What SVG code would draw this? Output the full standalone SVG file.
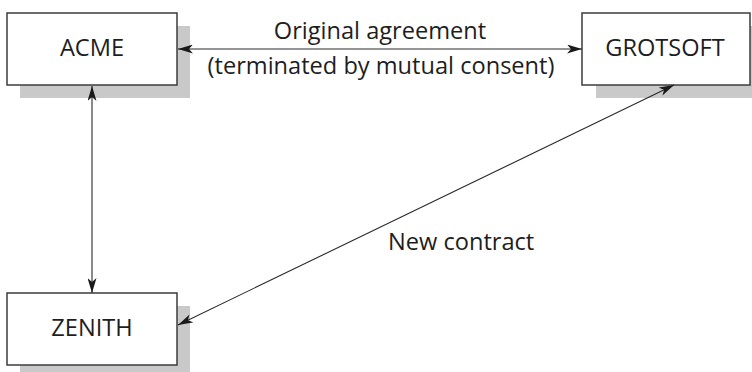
<svg xmlns="http://www.w3.org/2000/svg" width="752" height="372" viewBox="0 0 752 372">
  <style>
    .shadow { fill: #c9c9c9; }
    .box { fill: #ffffff; stroke: #3c3c3c; stroke-width: 1.5; }
    .label { font-family: "Open Sans", "Noto Sans", sans-serif; font-size: 23.6px; fill: #1e1e1e; text-anchor: middle; }
    .note { font-family: "Open Sans", "Noto Sans", sans-serif; font-size: 23.6px; fill: #1e1e1e; }
    .link { stroke: #2a2a2a; stroke-width: 1.1; fill: none; marker-start: url(#tip); marker-end: url(#tip); }
  </style>
  <defs>
    <marker id="tip" viewBox="0 0 15 9" refX="15" refY="4.5" markerWidth="15" markerHeight="9" markerUnits="userSpaceOnUse" orient="auto-start-reverse">
      <path d="M0,0 L15,4.5 L0,9 L4,4.5 Z" fill="#1a1a1a"/>
    </marker>
  </defs>

  <rect width="752" height="372" fill="#ffffff"/>

  <g id="acme">
    <rect class="shadow" x="20" y="26" width="170" height="72"/>
    <rect class="box" x="7" y="13" width="170" height="72"/>
    <text class="label" x="92" y="56">ACME</text>
  </g>

  <g id="grotsoft">
    <rect class="shadow" x="596" y="26" width="170" height="72"/>
    <rect class="box" x="582" y="13" width="168" height="72"/>
    <text class="label" x="665" y="56">GROTSOFT</text>
  </g>

  <g id="zenith">
    <rect class="shadow" x="20" y="306" width="170" height="72"/>
    <rect class="box" x="7" y="293" width="170" height="72"/>
    <text class="label" x="92" y="336">ZENITH</text>
  </g>

  <g id="connectors">
    <line class="link" x1="178" y1="49" x2="582" y2="49"/>
    <line class="link" x1="92" y1="86" x2="92" y2="293"/>
    <line class="link" x1="674" y1="85" x2="178" y2="325"/>
    <text class="label" x="380" y="39">Original agreement</text>
    <text class="label" x="381" y="74">(terminated by mutual consent)</text>
    <text class="note" x="388" y="250">New contract</text>
  </g>
</svg>
